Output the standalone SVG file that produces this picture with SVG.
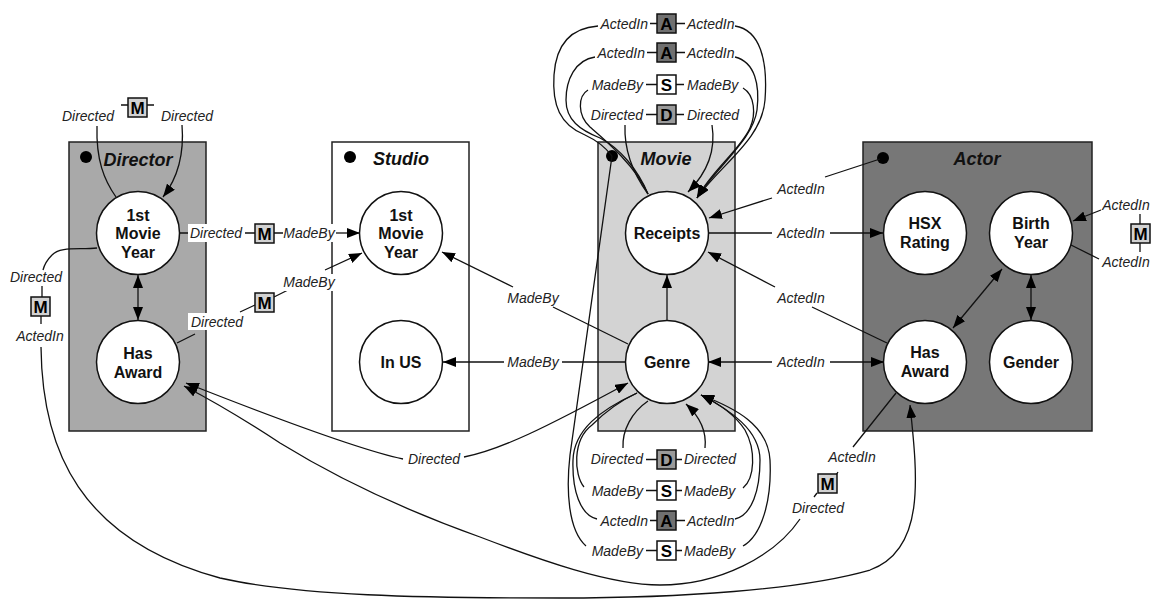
<svg xmlns="http://www.w3.org/2000/svg" width="1151" height="600" viewBox="0 0 1151 600">
<style>
.box{stroke:#222;stroke-width:1.5}
.node circle{fill:#fff;stroke:#111;stroke-width:1.5}
.nl{font:bold 16px "Liberation Sans",Arial,sans-serif;text-anchor:middle;fill:#111}
.title{font:italic bold 18px "Liberation Sans",Arial,sans-serif;text-anchor:middle;fill:#111}
.el{font:italic 14px "Liberation Sans",Arial,sans-serif;fill:#222;text-anchor:middle}
.s{text-anchor:start}.e{text-anchor:end}
.ln{fill:none;stroke:#111;stroke-width:1.3}
.arr{marker-end:url(#ah)}
.bi{marker-start:url(#ah);marker-end:url(#ah)}
.bg{fill:#fff}
.badge rect{stroke:#111;stroke-width:1.5}
.bt{font:bold 17px "Liberation Sans",Arial,sans-serif;text-anchor:middle;fill:#000}
.m{fill:#d2d2d2}.d{fill:#9a9a9a}.a{fill:#707070}.sb{fill:#fff}
</style>
<defs>
<marker id="ah" viewBox="0 0 13 10" refX="13" refY="5" markerWidth="13" markerHeight="10" markerUnits="userSpaceOnUse" orient="auto-start-reverse"><path d="M0,0L13,5L0,10z" fill="#000"/></marker>
</defs>

<g id="director">
<rect class="box" x="69" y="142" width="137" height="289" fill="#a9a9a9"/>
<circle cx="86" cy="157" r="6" fill="#000"/>
<text class="title" x="138" y="166">Director</text>
<g id="dir-1stmovieyear" class="node"><circle cx="138" cy="233" r="41.5"/><text class="nl" x="138" y="221">1st</text><text class="nl" x="138" y="239">Movie</text><text class="nl" x="138" y="258">Year</text></g>
<g id="dir-hasaward" class="node"><circle cx="138" cy="362" r="41.5"/><text class="nl" x="138" y="359">Has</text><text class="nl" x="138" y="378">Award</text></g>
</g>

<g id="studio">
<rect class="box" x="332" y="142" width="137" height="289" fill="#fff"/>
<circle cx="350" cy="157" r="6" fill="#000"/>
<text class="title" x="401" y="165">Studio</text>
<g id="stu-1stmovieyear" class="node"><circle cx="401" cy="233" r="41.5"/><text class="nl" x="401" y="221">1st</text><text class="nl" x="401" y="239">Movie</text><text class="nl" x="401" y="258">Year</text></g>
<g id="stu-inus" class="node"><circle cx="401" cy="362" r="41.5"/><text class="nl" x="401" y="368">In US</text></g>
</g>

<g id="movie">
<rect class="box" x="598" y="142" width="137" height="289" fill="#d3d3d3"/>
<circle cx="612" cy="156" r="6" fill="#000"/>
<text class="title" x="666" y="165">Movie</text>
<g id="mov-receipts" class="node"><circle cx="667" cy="233" r="41.5"/><text class="nl" x="667" y="239">Receipts</text></g>
<g id="mov-genre" class="node"><circle cx="667" cy="362" r="41.5"/><text class="nl" x="667" y="368">Genre</text></g>
</g>

<g id="actor">
<rect class="box" x="863" y="142" width="229" height="289" fill="#777"/>
<circle cx="883" cy="158" r="6" fill="#000"/>
<text class="title" x="977" y="165">Actor</text>
<g id="act-hsx" class="node"><circle cx="925" cy="233" r="41.5"/><text class="nl" x="925" y="229">HSX</text><text class="nl" x="925" y="248">Rating</text></g>
<g id="act-birthyear" class="node"><circle cx="1031" cy="233" r="41.5"/><text class="nl" x="1031" y="229">Birth</text><text class="nl" x="1031" y="248">Year</text></g>
<g id="act-hasaward" class="node"><circle cx="925" cy="362" r="41.5"/><text class="nl" x="925" y="358">Has</text><text class="nl" x="925" y="377">Award</text></g>
<g id="act-gender" class="node"><circle cx="1031" cy="362" r="41.5"/><text class="nl" x="1031" y="368">Gender</text></g>
</g>

<g id="connectors">
<!-- Director 1st movie year self loop -->
<path class="ln" d="M116,197 C104,180 96,160 97,126"/>
<path class="ln arr" d="M182,125 C184,150 180,175 163,197"/>
<text class="el" x="88" y="121">Directed</text>
<text class="el" x="187" y="121">Directed</text>
<path class="ln" d="M121,105H128M147,105H154"/>
<g class="badge"><rect class="m" x="128" y="98" width="19" height="19"/><text class="bt" x="137.5" y="113.5">M</text></g>

<!-- Director 1MY -> Studio 1MY -->
<path class="ln" d="M180,233H190M245,233H255M274,233H283"/>
<path class="ln arr" d="M334,233H360"/>
<rect class="bg" x="188" y="224" width="57" height="18"/>
<text class="el" x="216" y="238">Directed</text>
<rect class="bg" x="283" y="224" width="53" height="18"/>
<text class="el" x="309" y="238">MadeBy</text>
<g class="badge"><rect class="m" x="255" y="224" width="19" height="19"/><text class="bt" x="264.5" y="239.5">M</text></g>

<!-- Director HasAward -> Studio 1MY -->
<path class="ln" d="M177,343L195,334M240,312L255,305M274,297L288,290"/>
<path class="ln arr" d="M325,270L362,253"/>
<rect class="bg" x="188" y="313" width="58" height="17"/>
<text class="el" x="217" y="327">Directed</text>
<rect class="bg" x="283" y="274" width="53" height="17"/>
<text class="el" x="309" y="287">MadeBy</text>
<g class="badge"><rect class="m" x="255" y="293" width="19" height="19"/><text class="bt" x="264.5" y="308.5">M</text></g>

<!-- Director 1MY <-> HasAward -->
<path class="ln bi" d="M138,275V320"/>

<!-- Director 1MY -> Actor HasAward (long bottom) -->
<path class="ln" d="M97,248 C80,250 60,246 52,255 C46,261 44,266 43,270"/>
<text class="el" x="36" y="282">Directed</text>
<path class="ln" d="M42,286V297M41,316V324"/>
<g class="badge"><rect class="m" x="31" y="297" width="19" height="19"/><text class="bt" x="40.5" y="312.5">M</text></g>
<text class="el" x="40" y="341">ActedIn</text>
<path class="ln arr" d="M41,347 C42,450 80,540 220,578 C300,596 420,598 560,598 C680,598 800,590 870,570 C925,550 918,480 910,405"/>

<!-- Actor HasAward -> Director HasAward -->
<path class="ln" d="M896,393L853,447M838,472L836,475M817,493L814,497"/>
<text class="el" x="852" y="462">ActedIn</text>
<g class="badge"><rect class="m" x="818" y="474" width="19" height="19"/><text class="bt" x="827.5" y="489.5">M</text></g>
<text class="el" x="818" y="513">Directed</text>
<path class="ln arr" d="M800,519 C775,556 720,585 660,585 C610,585 540,560 480,537 C410,512 340,480 280,443 C245,420 215,402 184,386"/>

<!-- Genre <-> Director HasAward (Directed) -->
<path class="ln arr" d="M403,459 C370,452 300,428 186,383"/>
<path class="ln arr" d="M464,457 C500,450 545,428 628,383"/>
<text class="el" x="434" y="464">Directed</text>

<!-- Genre -> Studio 1MY -->
<path class="ln" d="M628,344L553,307"/>
<path class="ln arr" d="M513,287L442,252"/>
<text class="el" x="533" y="303">MadeBy</text>

<!-- Genre -> In US -->
<path class="ln" d="M625,362H562"/>
<path class="ln arr" d="M504,362H443"/>
<text class="el" x="533" y="367">MadeBy</text>

<!-- Genre -> Receipts -->
<path class="ln arr" d="M667,320V275"/>

<!-- Receipts -> HSX -->
<path class="ln" d="M708,233H772"/>
<path class="ln arr" d="M830,233H883"/>
<text class="el" x="801" y="238">ActedIn</text>

<!-- Actor dot -> Receipts -->
<path class="ln" d="M880,159L825,177"/>
<path class="ln arr" d="M772,198L709,218"/>
<text class="el" x="801" y="194">ActedIn</text>

<!-- Actor HasAward -> Receipts -->
<path class="ln" d="M887,343L812,307"/>
<path class="ln arr" d="M775,287L708,252"/>
<text class="el" x="801" y="303">ActedIn</text>

<!-- Genre <-> Actor HasAward -->
<path class="ln arr" d="M772,362H708"/>
<path class="ln arr" d="M830,362H884"/>
<text class="el" x="801" y="367">ActedIn</text>

<!-- Birth Year <-> Actor HasAward, Gender -->
<path class="ln bi" d="M1002,269L953,328"/>
<path class="ln bi" d="M1031,275V320"/>

<!-- Birth Year self loop right -->
<path class="ln arr" d="M1101,210L1073,221"/>
<text class="el" x="1126" y="210">ActedIn</text>
<path class="ln" d="M1140,214V224M1140,243V252"/>
<g class="badge"><rect class="m" x="1131" y="224" width="19" height="19"/><text class="bt" x="1140.5" y="239.5">M</text></g>
<text class="el" x="1126" y="267">ActedIn</text>
<path class="ln" d="M1099,259L1071,245"/>

<!-- Movie top loops -->
<text class="el e" x="648" y="29">ActedIn</text>
<text class="el s" x="687" y="29">ActedIn</text>
<g class="badge"><rect class="a" x="657" y="14" width="19" height="19"/><text class="bt" x="666.5" y="29.5">A</text></g>
<text class="el e" x="645" y="58">ActedIn</text>
<text class="el s" x="687" y="58">ActedIn</text>
<g class="badge"><rect class="a" x="657" y="43" width="19" height="19"/><text class="bt" x="666.5" y="58.5">A</text></g>
<text class="el e" x="643" y="90">MadeBy</text>
<text class="el s" x="687" y="90">MadeBy</text>
<g class="badge"><rect class="sb" x="657" y="75" width="19" height="19"/><text class="bt" x="666.5" y="90.5">S</text></g>
<text class="el e" x="643" y="120">Directed</text>
<text class="el s" x="687" y="120">Directed</text>
<g class="badge"><rect class="d" x="657" y="105" width="19" height="19"/><text class="bt" x="666.5" y="120.5">D</text></g>
<path class="ln" d="M650,23.5H657M676,23.5H685M647,52.5H657M676,52.5H685M646,84.5H657M676,84.5H684M646,114.5H657M676,114.5H684"/>
<path class="ln" d="M598,26 C570,28 556,45 554,75 C552,105 560,125 585,135 C598,141 606,148 612,156"/>
<path class="ln" d="M595,57 C575,60 566,80 566,100 C566,120 580,130 600,138 C620,148 638,170 648,194"/>
<path class="ln" d="M588,90 C578,96 577,115 590,127 C605,140 635,165 648,194"/>
<path class="ln" d="M625,125 C624,150 632,172 648,194"/>
<path class="ln arr" d="M735,26 C760,30 768,60 765,100 C762,140 720,165 697,198"/>
<path class="ln arr" d="M735,57 C755,62 760,85 757,110 C753,140 718,165 697,198"/>
<path class="ln arr" d="M743,88 C755,95 756,115 750,128 C740,150 712,170 697,198"/>
<path class="ln arr" d="M712,125 C716,150 708,172 688,192"/>

<!-- Movie bottom loops -->
<text class="el e" x="643" y="464">Directed</text>
<text class="el s" x="684" y="464">Directed</text>
<g class="badge"><rect class="d" x="657" y="450" width="19" height="19"/><text class="bt" x="666.5" y="465.5">D</text></g>
<text class="el e" x="643" y="496">MadeBy</text>
<text class="el s" x="684" y="496">MadeBy</text>
<g class="badge"><rect class="sb" x="657" y="481" width="19" height="19"/><text class="bt" x="666.5" y="496.5">S</text></g>
<text class="el e" x="648" y="526">ActedIn</text>
<text class="el s" x="687" y="526">ActedIn</text>
<g class="badge"><rect class="a" x="657" y="511" width="19" height="19"/><text class="bt" x="666.5" y="526.5">A</text></g>
<text class="el e" x="643" y="556">MadeBy</text>
<text class="el s" x="684" y="556">MadeBy</text>
<g class="badge"><rect class="sb" x="657" y="541" width="19" height="19"/><text class="bt" x="666.5" y="556.5">S</text></g>
<path class="ln" d="M646,459.5H657M676,459.5H682M646,490.5H657M676,490.5H682M650,520.5H657M676,520.5H685M646,550.5H657M676,550.5H682"/>
<path class="ln" d="M623,448 C622,430 632,412 648,401"/>
<path class="ln" d="M584,487 C574,475 572,440 592,425 C605,412 622,400 637,393"/>
<path class="ln" d="M597,519 C580,515 572,490 573,460 C574,430 600,410 637,393"/>
<path class="ln" d="M612,156 L570,455 C566,490 568,530 586,546"/>
<path class="ln arr" d="M705,448 C707,430 698,415 686,404"/>
<path class="ln arr" d="M743,488 C755,478 756,450 745,430 C735,415 718,403 701,395"/>
<path class="ln arr" d="M735,519 C752,515 760,490 760,460 C760,430 730,410 701,395"/>
<path class="ln arr" d="M743,546 C762,535 772,500 770,460 C768,425 735,408 701,395"/>
</g>
</svg>
